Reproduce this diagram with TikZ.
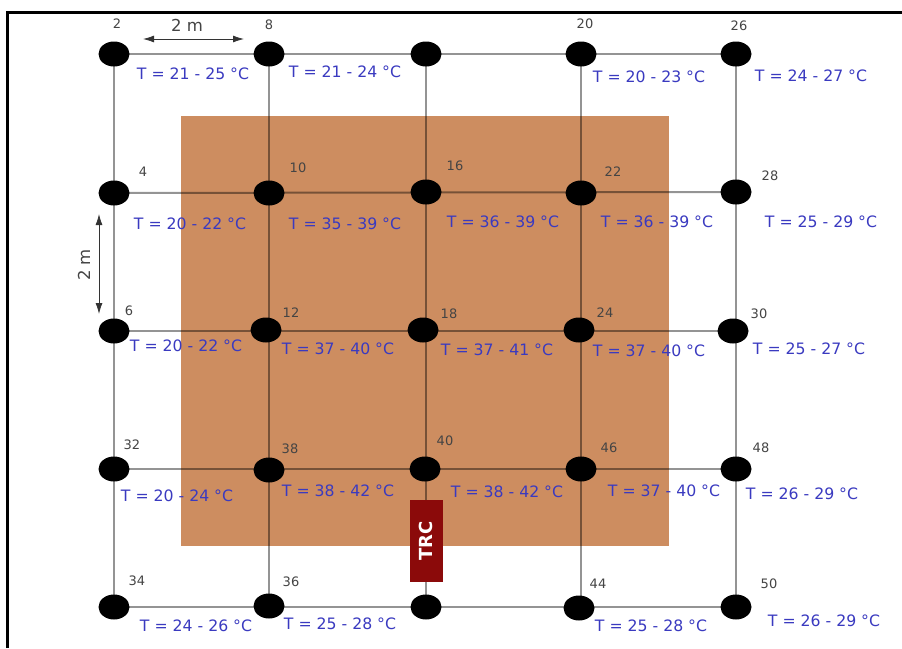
\documentclass[tikz,border=0pt]{standalone}
\usepackage{fontspec}
\setmainfont{DejaVu Sans}
\usetikzlibrary{arrows.meta}
\definecolor{zone}{HTML}{CD8D60}
\definecolor{trc}{HTML}{8B0A0A}
\definecolor{temp}{HTML}{3A3AC0}
\definecolor{lab}{HTML}{444444}
\tikzset{
 wire/.style={draw=black,line width=2pt,opacity=.42},
 tl/.style={text=temp,font=\fontsize{15.7}{18}\selectfont,inner sep=0pt},
 num/.style={text=lab,font=\fontsize{13}{15}\selectfont,inner sep=0pt},
 dim/.style={draw=black!80,line width=.8pt,{Latex[length=11pt,width=7pt]}-{Latex[length=11pt,width=7pt]}},
 diml/.style={text=lab,font=\fontsize{16.5}{19}\selectfont,inner sep=0pt}
}
\begin{document}
\begin{tikzpicture}[x=1pt,y=-1pt]
\useasboundingbox (0,0) rectangle (902,648);
\fill[white] (0,0) rectangle (902,648);
\node[draw=none,fill=zone,minimum width=488pt,minimum height=430pt,inner sep=0pt] (zonebox) at (424.5,331) {};
\foreach \n/\x/\y in {a1/114/54,a2/269/54,a3/426/54,a4/581/54,a5/736/54,
 b1/114/193,b2/269/193,b3/426/192,b4/581/193,b5/736/192,
 c1/114/331,c2/266/330,c3/423/330,c4/579/330,c5/733/331,
 d1/114/469,d2/269/470,d3/425/469,d4/581/469,d5/736/469,
 e1/114/607,e2/269/606,e3/426/607,e4/579/608,e5/736/607}
 {\coordinate (\n) at (\x,\y);}
\foreach \p/\q in {a1/a5,b1/b5,c1/c5,d1/d5,e1/e5}
 {\draw[wire] (\p) -- (\q);}
\foreach \p/\q in {a1/e1,a2/e2,a3/e3,a4/d4,a5/e5}
 {\draw[wire] (\p) -- (\q);}
\coordinate (e4top) at (581,608);
\draw[wire] (d4) -- (e4top);
\foreach \n in {a1,a2,a3,a4,a5,b1,b2,b3,b4,b5,c1,c2,c3,c4,c5,d1,d2,d3,d4,d5,e1,e2,e3,e4,e5}
 {\fill[black] (\n) ellipse (15.5pt and 12.5pt);}
\node[fill=trc,minimum width=33pt,minimum height=82pt,inner sep=0pt,text=white,font=\bfseries\fontsize{18}{20}\selectfont] (trcbox) at (426,541) {\rotatebox{90}{TRC}};
\draw[black,line width=3pt] (7.5,648) -- (7.5,12) -- (902,12);
\foreach \x/\y/\t in {117/24/2,269/25/8,585/24/20,739/26/26,
 143/172/4,298/168/10,455/166/16,613/172/22,770/176/28,
 129/311/6,291/313/12,449/314/18,605/313/24,759/314/30,
 132/445/32,290/449/38,445/441/40,609/448/46,761/448/48,
 137/581/34,291/582/36,598/584/44,769/584/50}
 {\node[num] (n\t) at (\x,\y) {\t};}
\foreach \x/\y/\t in {193/74/21 - 25,345/72/21 - 24,649/77/20 - 23,811/76/24 - 27,
 190/224/20 - 22,345/224/35 - 39,503/222/36 - 39,657/222/36 - 39,821/222/25 - 29,
 186/346/20 - 22,338/349/37 - 40,497/350/37 - 41,649/351/37 - 40,809/349/25 - 27,
 177/496/20 - 24,338/491/38 - 42,507/492/38 - 42,664/491/37 - 40,802/494/26 - 29,
 196/626/24 - 26,340/624/25 - 28,651/626/25 - 28,824/621/26 - 29}
 {\node[tl] at (\x,\y) {T = \t\ °C};}
\coordinate (h1) at (143,39); \coordinate (h2) at (244,39);
\draw[dim] (h1) -- (h2);
\node[diml] (hl) at (187,25) {2 m};
\coordinate (v1) at (99,214); \coordinate (v2) at (99,314);
\draw[dim] (v1) -- (v2);
\node[diml,rotate=90] (vl) at (84,265) {2 m};
\end{tikzpicture}
\end{document}
